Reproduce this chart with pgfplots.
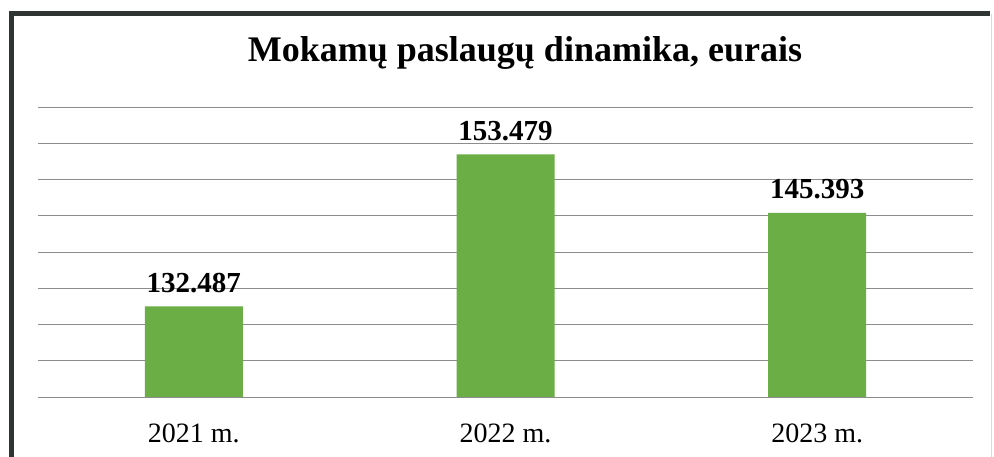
\documentclass[border=0pt]{standalone}
\usepackage{fontspec}
\setmainfont{Liberation Serif}
\usepackage{pgfplots}
\pgfplotsset{compat=1.18}
\definecolor{bargreen}{HTML}{6BAE45}
\definecolor{framec}{HTML}{2E3533}
\begin{document}
\begin{tikzpicture}[x=1pt,y=1pt]
\useasboundingbox (0,0) rectangle (994,457);
\fill[white] (0,0) rectangle (994,457);
\draw[line width=5pt, framec] (11,0) -- (11,443) -- (990,443);
\draw[line width=0.8pt, black!15] (991,443) -- (991,0);
\node[anchor=base, font=\fontsize{36}{40}\selectfont\bfseries] at (525,395) {Mokamų paslaugų dinamika, eurais};
\begin{axis}[
  at={(38pt,60pt)}, anchor=south west,
  width=935pt, height=290pt, scale only axis,
  xmin=-0.5, xmax=2.5, ymin=120, ymax=160,
  ybar, bar width=98pt,
  axis line style={draw=none},
  major tick length=0pt,
  ytick={120,125,...,160}, yticklabels={},
  ymajorgrids,
  grid style={line width=0.9pt, black!45},
  xtick={0,1,2},
  xticklabels={2021 m.,2022 m.,2023 m.},
  xticklabel style={anchor=base, yshift=-46pt, inner sep=0pt, font=\fontsize{28}{32}\selectfont},
  nodes near coords,
  point meta=explicit symbolic,
  every node near coord/.append style={anchor=base, yshift=14pt, inner sep=0pt, font=\fontsize{29}{32}\selectfont\bfseries, text=black},
  clip=false,
]
\addplot[fill=bargreen, draw=none] coordinates {(0,132.487) [132.487] (1,153.479) [153.479] (2,145.393) [145.393]};
\end{axis}
\end{tikzpicture}
\end{document}
